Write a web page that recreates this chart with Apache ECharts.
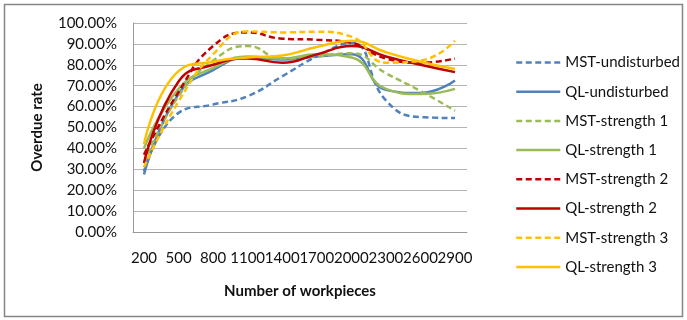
<!DOCTYPE html>
<html>
<head>
<meta charset="utf-8">
<script src="https://cdn.jsdelivr.net/npm/echarts@6/dist/echarts.min.js"></script>
<style>
  html, body { margin: 0; padding: 0; background: #fff; }
  #chart { width: 687px; height: 320px; }
</style>
</head>
<body>
<div id="chart"></div>
<script>
// Number of workpieces (category axis)
const categories = ['200', '500', '800', '1100', '1400', '1700', '2000', '2300', '2600', '2900'];

// Overdue rate, in percent
const mstUndisturbed = [29, 57, 61, 65, 74.5, 84, 90.5, 63, 55, 54.5];
const qlUndisturbed  = [27.5, 66, 77.5, 83.5, 82.5, 84, 85, 68, 66.5, 72.5];
const mstStrength1   = [33, 65, 82, 89, 83, 84, 85.5, 76, 67.5, 58];
const qlStrength1    = [40, 68.5, 78.5, 84, 83, 85, 83.5, 68.5, 66, 68.5];
const mstStrength2   = [37, 67, 89, 95.5, 92.5, 92, 90.5, 83, 81, 83];
const qlStrength2    = [33, 72, 80, 83, 81, 85, 89, 84, 80, 76.5];
const mstStrength3   = [31, 62.5, 85, 96, 95.5, 95.8, 93.5, 81, 82, 91.5];
const qlStrength3    = [42, 77, 81.5, 83.5, 84.5, 88.5, 91.5, 86, 81.5, 78];

// y-axis range and step, in percent
const yMin = 0, yMax = 100, yStep = 10;

const FONT = 'Lato';
const BLUE = '#4F81BD', GREEN = '#9BBB59', RED = '#C00000', GOLD = '#FFC000';
const DASH = [6, 3.5];

function line(name, data, color, dashed) {
  return {
    name: name,
    type: 'line',
    xAxisIndex: 0,
    yAxisIndex: 0,
    data: data,
    smooth: 0.5,
    symbol: 'none',
    lineStyle: { color: color, width: 2.5, type: dashed ? DASH : 'solid' },
    itemStyle: { color: color }
  };
}

const chart = echarts.init(document.getElementById('chart'), null, { renderer: 'canvas' });
chart.setOption({
  animation: false,
  backgroundColor: '#fff',
  textStyle: { fontFamily: FONT },
  graphic: [{
    type: 'rect',
    shape: { x: 4.5, y: 4.5, width: 678, height: 312 },
    style: { fill: 'none', stroke: '#868686', lineWidth: 1.5 },
    silent: true
  }],
  grid: [
    // plotting area for the series
    { left: 144, right: 232, top: 23, bottom: 88, containLabel: false },
    // frame with gridlines
    { left: 133, right: 220, top: 23, bottom: 88, containLabel: false }
  ],
  legend: {
    orient: 'vertical',
    left: 510,
    top: 50,
    itemWidth: 44,
    itemHeight: 16,
    itemGap: 14.2,
    itemStyle: { opacity: 0, borderWidth: 0 },
    lineStyle: { width: 2.5 },
    textStyle: { fontFamily: FONT, fontSize: 15, color: '#111' },
    data: ['MST-undisturbed', 'QL-undisturbed', 'MST-strength 1', 'QL-strength 1',
           'MST-strength 2', 'QL-strength 2', 'MST-strength 3', 'QL-strength 3']
  },
  xAxis: [
    {
      gridIndex: 0,
      type: 'category',
      data: categories,
      boundaryGap: false,
      axisLine: { show: false },
      axisTick: { show: false },
      splitLine: { show: false },
      axisLabel: { interval: 0, margin: 19, fontSize: 15, fontFamily: FONT, color: '#111' }
    },
    {
      gridIndex: 1,
      type: 'value',
      min: 0, max: 1,
      axisLine: { show: true, lineStyle: { color: '#9a9a9a', width: 1 } },
      axisTick: { show: false },
      axisLabel: { show: false },
      splitLine: { show: false },
      name: 'Number of workpieces',
      nameLocation: 'middle',
      nameGap: 52,
      nameTextStyle: { fontFamily: FONT, fontSize: 15, fontWeight: 'bold', color: '#111' }
    }
  ],
  yAxis: [
    {
      gridIndex: 0,
      type: 'value',
      min: yMin, max: yMax, interval: yStep,
      show: false,
      splitLine: { show: false }
    },
    {
      gridIndex: 1,
      type: 'value',
      min: yMin, max: yMax, interval: yStep,
      axisLine: { show: true, lineStyle: { color: '#9a9a9a', width: 1 } },
      axisTick: { show: false },
      splitLine: { show: true, lineStyle: { color: '#b4b4b4', width: 1 } },
      axisLabel: {
        margin: 16, fontSize: 15, fontFamily: FONT, color: '#111',
        formatter: v => v.toFixed(2) + '%'
      },
      name: 'Overdue rate',
      nameLocation: 'middle',
      nameGap: 88,
      nameTextStyle: { fontFamily: FONT, fontSize: 15, fontWeight: 'bold', color: '#111' }
    }
  ],
  series: [
    line('MST-undisturbed', mstUndisturbed, BLUE, true),
    line('QL-undisturbed', qlUndisturbed, BLUE, false),
    line('MST-strength 1', mstStrength1, GREEN, true),
    line('QL-strength 1', qlStrength1, GREEN, false),
    line('MST-strength 2', mstStrength2, RED, true),
    line('QL-strength 2', qlStrength2, RED, false),
    line('MST-strength 3', mstStrength3, GOLD, true),
    line('QL-strength 3', qlStrength3, GOLD, false)
  ]
});
</script>
</body>
</html>
